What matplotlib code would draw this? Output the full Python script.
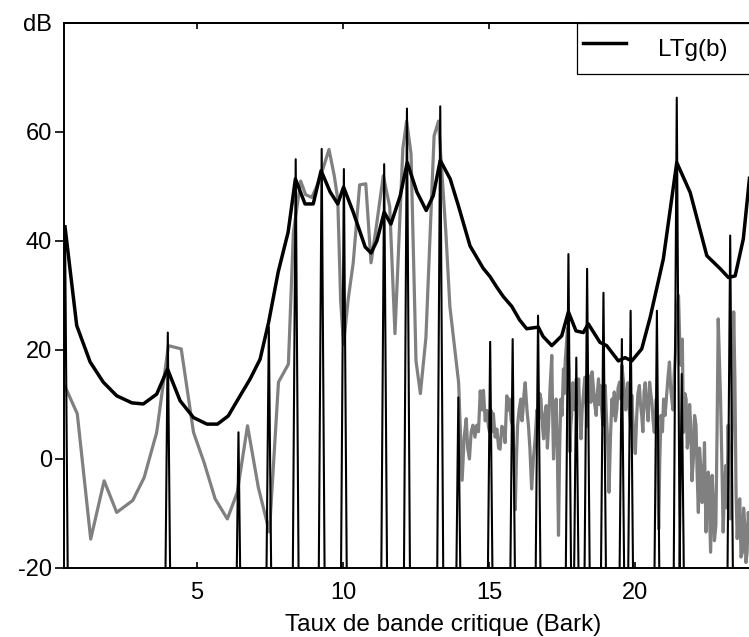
import matplotlib
matplotlib.use("Agg")
import matplotlib.pyplot as plt
from matplotlib.lines import Line2D

plt.rcParams['font.family'] = ['Liberation Sans', 'DejaVu Sans']

# ---- data ----
# spectrum (grey)
spec_bark = [0.48, 0.90, 1.36, 1.82, 2.25, 2.80, 3.19, 3.62, 4.02, 4.46, 4.88, 5.24, 5.62, 6.04, 6.38,
             6.73, 7.10, 7.48, 7.79, 8.13, 8.30, 8.55, 8.72, 8.93, 9.10, 9.30, 9.52, 9.70, 9.82, 9.92,
             10.02, 10.18, 10.35, 10.57, 10.78, 10.96, 11.15, 11.38, 11.60, 11.78, 11.95, 12.05, 12.18,
             12.33, 12.50, 12.65, 12.84, 13.12, 13.27, 13.52, 13.66, 13.96,
             14.08, 14.15, 14.22, 14.27, 14.33, 14.39, 14.45, 14.52, 14.58, 14.64, 14.70, 14.76, 14.81,
             14.87, 14.93, 14.98, 15.02, 15.06, 15.09, 15.12, 15.15, 15.21, 15.27, 15.33, 15.38, 15.44,
             15.50, 15.55, 15.61, 15.66, 15.70, 15.76, 15.82, 15.86, 15.90, 15.94, 15.98, 16.03, 16.09,
             16.13, 16.16, 16.20, 16.24, 16.30, 16.35, 16.40, 16.46, 16.52, 16.58, 16.64, 16.70, 16.74,
             16.78, 16.83, 16.87, 16.91, 16.96, 17.00, 17.04, 17.09, 17.15, 17.18, 17.21, 17.25, 17.30,
             17.34, 17.38, 17.42, 17.46, 17.50, 17.55, 17.58, 17.61, 17.65, 17.69, 17.73, 17.77, 17.80,
             17.83, 17.87, 17.90, 17.94, 17.99, 18.03, 18.07, 18.11, 18.15, 18.19, 18.24, 18.28, 18.33,
             18.37, 18.41, 18.45, 18.49, 18.53, 18.58, 18.62, 18.67, 18.71, 18.75, 18.78, 18.81, 18.86,
             18.90, 18.94, 18.98, 19.02, 19.06, 19.09, 19.11, 19.16, 19.21, 19.25, 19.29, 19.33, 19.38,
             19.42, 19.47, 19.51, 19.55, 19.59, 19.63, 19.68, 19.72, 19.76, 19.81, 19.85, 19.89, 19.93,
             19.97, 20.01, 20.06, 20.10, 20.15, 20.19, 20.23, 20.27, 20.31, 20.35, 20.40, 20.45, 20.50,
             20.54, 20.58, 20.62, 20.66, 20.70, 20.73, 20.77, 20.81, 20.85, 20.89, 20.94, 20.98, 21.03,
             21.09, 21.13, 21.18, 21.22, 21.26, 21.30, 21.34, 21.38, 21.41, 21.45, 21.49, 21.53, 21.57,
             21.62, 21.66, 21.71, 21.75, 21.79, 21.83, 21.87, 21.91, 21.95, 22.00,
             22.04, 22.09, 22.13, 22.17, 22.21, 22.25, 22.30, 22.34, 22.38, 22.43, 22.47, 22.51, 22.55,
             22.59, 22.64, 22.68, 22.72, 22.77, 22.81, 22.85, 22.89, 22.93, 22.98, 23.02, 23.06, 23.11,
             23.15, 23.19, 23.23, 23.27, 23.30, 23.34, 23.38, 23.42, 23.46, 23.50, 23.55, 23.59, 23.63,
             23.68, 23.72, 23.76, 23.80, 23.84, 23.88, 23.92]
spec_db = [13.3, 8.3, -14.7, -4.0, -9.8, -7.6, -3.4, 4.9, 20.8, 20.2, 4.9, -0.6, -7.3, -11.0, -6.1,
           6.1, -5.2, -13.4, 14.1, 17.4, 41.5, 51.0, 48.5, 48.0, 50.0, 53.0, 56.8, 52.0, 47.7, 29.0,
           21.0, 29.4, 36.0, 50.3, 50.5, 36.0, 43.0, 52.0, 46.3, 23.0, 44.4, 57.0, 62.0,
           56.0, 18.0, 12.0, 22.3, 59.3, 62.0, 41.8, 28.0, 14.0,
           -3.9, 4.0, 7.4, 2.0, 0.0, 5.0, 6.2, 4.0, 6.2, 5.0, 12.5, 9.0, 12.6,
           7.0, 8.9, 6.0, 4.9, 9.0, 8.6, 5.0, 8.3, 4.0, 5.5, 2.0, 1.8, 6.0,
           5.5, 3.0, 11.6, 9.0, 11.0, 7.0, 5.9, -2.0, -9.3, 0.0, 6.2, 9.0, 11.0,
           7.0, 8.6, 12.0, 14.0, 9.0, 6.2, 2.0, -5.5, 0.0, 3.7, 9.0, 7.3, 12.0,
           11.0, 6.0, 3.7, 8.0, 9.8, 2.0, 6.2, 13.0, 19.0, 8.0, 0.0, 6.0, 11.0,
           2.0, -14.0, 2.0, 11.0, 8.0, 16.5, 12.0, 18.0, 21.0, 24.0, 16.0, 1.3, 6.0,
           8.0, 14.0, 12.9, 9.0, 14.7, 10.0, 14.7, 8.0, 3.7, 9.0, 12.3, 15.0, 9.2,
           6.0, 15.3, 12.0, 10.4, 16.0, 12.9, 10.0, 8.0, 12.0, 14.7, 10.0, 13.5, 9.0,
           6.2, 10.0, 13.5, 8.0, 3.7, -2.0, -6.1, 4.0, 11.0, 8.0, 12.3, 7.0, 9.2,
           13.0, 14.1, 11.0, 17.2, 15.0, 12.9, 9.0, 11.7, 14.0, 8.6, 6.0, 11.7, 7.0,
           3.7, 1.0, 8.0, 12.0, 13.5, 10.0, 8.0, 5.0, 12.3, 14.0, 9.8, 7.0, 14.1,
           12.0, 10.4, 7.0, 4.9, 8.0, 11.0, 2.0, -12.8, 0.0, 8.0, 5.0, 11.0, 8.0,
           12.3, 15.0, 17.8, 13.0, 11.0, 9.0, 15.3, 19.0, 23.3, 28.0, 30.0, 22.0, 17.2,
           22.0, 4.9, 12.0, 11.0, 2.0, 3.7, 10.0, 6.2, -4.0, 0.0,
           8.0, 6.2, -3.0, -9.8, 2.0, -1.2, -8.0, -4.9, 3.0, -13.4, -5.0, -2.4, -10.0,
           -17.1, -3.0, -7.3, -15.0, -12.2, 5.0, 25.7, 18.0, 11.0, -2.0, -13.4, -6.0, -1.2,
           -9.0, 6.2, -5.0, -11.0, -2.4, 10.0, 27.0, 15.0, -6.0, -14.6, -8.0, -7.3, -18.0,
           -17.1, -9.0, -12.2, -19.0, -17.1, -9.8, -14.0]

# global masking threshold LTg(b)
ltg_bark = [0.48, 0.88, 1.34, 1.79, 2.25, 2.77, 3.16, 3.62, 3.99, 4.42, 4.88, 5.34, 5.70, 6.07, 6.41,
            6.82, 7.16, 7.45, 7.78, 8.12, 8.37, 8.70, 8.98, 9.25, 9.56, 9.82, 10.02, 10.35, 10.76,
            10.96, 11.16, 11.41, 11.64, 11.96, 12.20, 12.53, 12.85, 13.09, 13.33, 13.67, 13.95, 14.35,
            14.80, 15.03, 15.27, 15.49, 15.78, 16.05, 16.29, 16.69, 16.85, 17.15, 17.49, 17.72, 17.98,
            18.23, 18.40, 18.80, 19.03, 19.43, 19.66, 19.89, 20.23, 20.52, 20.97, 21.43, 21.89, 22.46,
            22.92, 23.20, 23.43, 23.71, 23.92]
ltg_db = [42.6, 24.5, 17.8, 14.1, 11.6, 10.3, 10.1, 11.9, 16.5, 10.7, 7.6, 6.4, 6.4, 7.9, 11.0,
          14.7, 18.3, 25.0, 34.3, 41.6, 51.4, 46.8, 46.8, 52.9, 49.0, 46.8, 49.9, 45.3, 38.9,
          37.8, 40.0, 45.3, 43.1, 48.3, 54.4, 49.0, 45.6, 48.3, 54.8, 51.4, 46.5, 39.1,
          35.0, 33.5, 31.5, 29.8, 28.0, 25.5, 23.9, 24.2, 22.5, 20.8, 22.6, 27.0, 23.5,
          23.2, 24.8, 21.4, 20.8, 18.0, 18.6, 18.0, 20.2, 26.0, 36.7, 54.4, 48.9, 37.3,
          34.9, 33.3, 33.6, 40.4, 51.5]

# tonal components (black spikes)
tone_bark = [0.48, 4.00, 6.42, 7.46, 8.38, 9.27, 10.03, 11.41, 12.19, 13.33, 13.95, 15.04, 15.81,
             16.68, 17.72, 17.99, 18.36, 18.92, 19.55, 19.85, 20.75, 21.43, 21.60, 23.26]
tone_db = [42.6, 23.2, 4.9, 24.2, 55.0, 56.9, 53.2, 54.1, 64.3, 64.7, 11.3, 21.5, 22.0,
           26.3, 37.6, 18.6, 34.9, 30.5, 22.0, 27.2, 27.2, 66.3, 15.6, 41.0]

xticks = [5, 10, 15, 20]
yticks = [-20, 0, 20, 40, 60, 80]
ytick_labels = ['-20', '0', '20', '40', '60', 'dB']
xlabel = 'Taux de bande critique (Bark)'
legend_label = 'LTg(b)'

# ---- figure ----
W, H = 749, 637
fig = plt.figure(figsize=(W / 100, H / 100), dpi=100)
ax_l, ax_r, ax_t, ax_b = 64, 752, 23, 568
ax = fig.add_axes([ax_l / W, 1 - ax_b / H, (ax_r - ax_l) / W, (ax_b - ax_t) / H])

# tonal spikes as narrow triangles dropping far below the visible range
floor, half = -60.0, 0.15
sx, sy = [], []
for b, v in zip(tone_bark, tone_db):
    sx += [b - half, b, b + half]
    sy += [floor, v, floor]

ax.plot(spec_bark, spec_db, color='#808080', lw=2.3, zorder=2)
ax.plot(sx, sy, color='black', lw=1.5, zorder=3)
ax.plot(ltg_bark, ltg_db, color='black', lw=2.5, zorder=4)

x0 = 5 - (197 - ax_l) / 29.2
ax.set_xlim(x0, x0 + (ax_r - ax_l) / 29.2)
ax.set_ylim(-20, 80)

for s in ['left', 'bottom', 'top', 'right']:
    ax.spines[s].set_linewidth(1.4)
ax.spines['right'].set_visible(False)

ax.set_xticks(xticks)
ax.set_xticklabels([str(t) for t in xticks])
ax.set_yticks(yticks)
ax.set_yticklabels(ytick_labels)
ax.tick_params(axis='x', direction='in', length=4, width=1.2, labelsize=17, pad=10)
ax.tick_params(axis='y', direction='out', length=6.5, width=1.2, labelsize=17, pad=2)
ax.yaxis.get_major_ticks()[-1].tick1line.set_visible(False)

top = ax.secondary_xaxis('top')
top.set_xticks([5, 10, 15])
top.tick_params(axis='x', direction='in', length=4, width=1.2, labeltop=False)
top.spines['top'].set_linewidth(1.4)

ax.set_xlabel(xlabel, fontsize=17.5, va='center')
ax.xaxis.set_label_coords((443.5 - ax_l) / (ax_r - ax_l), -(625 - ax_b) / (ax_b - ax_t))

handle = Line2D([], [], color='black', lw=2.5)
leg = ax.legend([handle], [legend_label], loc='upper left',
                bbox_to_anchor=((577 - ax_l) / (ax_r - ax_l), 0.0, 0.35, 1.0),
                mode='expand', borderaxespad=0, fancybox=False, fontsize=17.5,
                handlelength=1.75, handleheight=2.1, handletextpad=1.35,
                borderpad=0.25, framealpha=1)
leg.get_frame().set_edgecolor('black')
leg.get_frame().set_linewidth(0.9)
leg.set_zorder(10)

fig.savefig('out.png', dpi=100)
